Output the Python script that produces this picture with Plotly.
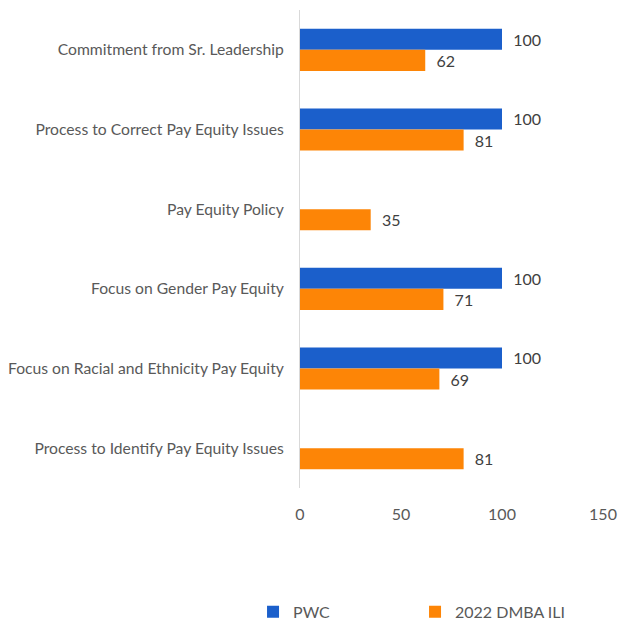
import plotly.graph_objects as go

categories = [
    "Commitment from Sr. Leadership",
    "Process to Correct Pay Equity Issues",
    "Pay Equity Policy",
    "Focus on Gender Pay Equity",
    "Focus on Racial and Ethnicity Pay Equity",
    "Process to Identify Pay Equity Issues",
]
pwc = [100, 100, None, 100, 100, None]
dmba = [62, 81, 35, 71, 69, 81]
x_ticks = [0, 50, 100, 150]

BLUE = "#1b5fcb"
ORANGE = "#fd8506"
FONT = "Lato, 'Open Sans', sans-serif"
PAD = "\u00a0\u00a0"

fig = go.Figure()
fig.add_trace(go.Bar(
    y=categories, x=pwc, orientation="h", name="PWC",
    marker=dict(color=BLUE, line=dict(width=0)),
    text=[("" if v is None else PAD + str(v)) for v in pwc],
    textposition="outside", cliponaxis=False,
    textfont=dict(size=16, color="#404040", family=FONT),
))
fig.add_trace(go.Bar(
    y=categories, x=dmba, orientation="h", name="2022 DMBA ILI",
    marker=dict(color=ORANGE, line=dict(width=0)),
    text=[PAD + str(v) for v in dmba],
    textposition="outside", cliponaxis=False,
    textfont=dict(size=16, color="#404040", family=FONT),
))

fig.update_layout(
    width=619, height=621,
    barmode="group", bargap=0.47, bargroupgap=0,
    plot_bgcolor="white", paper_bgcolor="white",
    margin=dict(l=300, r=16, t=10, b=133, autoexpand=False),
    font=dict(family=FONT, size=16, color="#595959"),
    showlegend=True,
    legend=dict(
        orientation="h", x=-0.155, xanchor="left", y=-0.259, yanchor="middle",
        entrywidth=117, font=dict(size=16, color="#595959"),
        traceorder="normal", itemwidth=30,
    ),
    xaxis=dict(
        range=[0, 150], tickvals=x_ticks, showgrid=False, zeroline=False,
        showline=False, ticks="", tickfont=dict(size=16, color="#595959"),
        ticklabelstandoff=15, automargin=False, ticklabeloverflow="allow",
    ),
    yaxis=dict(
        categoryorder="array", categoryarray=categories, autorange="reversed",
        showgrid=False, zeroline=False, showline=True, linecolor="#d9d9d9",
        linewidth=1, ticks="", ticklabelstandoff=12, automargin=False,
        tickfont=dict(size=15.7, color="#595959"),
    ),
)

fig.write_html(
    "out.html",
    config={"displayModeBar": False},
    post_script="document.body.style.margin='0';",
)
